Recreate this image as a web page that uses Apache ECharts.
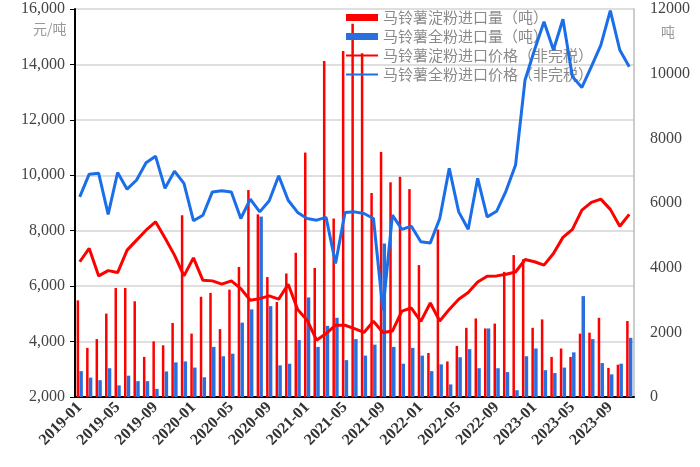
<!DOCTYPE html>
<html>
<head>
<meta charset="utf-8">
<script src="https://cdn.jsdelivr.net/npm/echarts@6/dist/echarts.min.js"></script>
<style>
  html, body { margin: 0; padding: 0; background: #fff; }
  #chart { width: 700px; height: 467px; }
</style>
</head>
<body>
<div id="chart"></div>
<script>
// 月份 2019-01 ~ 2023-11
const months = [];
for (let y = 2019; y <= 2023; y++) {
  for (let m = 1; m <= 12; m++) {
    if (y === 2023 && m > 11) break;
    months.push(y + '-' + (m < 10 ? '0' + m : m));
  }
}

// 马铃薯淀粉进口量（吨）
const starchVolume = [
  2990, 1520, 1790, 2580, 3370, 3370, 2960, 1240, 1720, 1600,
  2290, 5620, 1960, 3100, 3220, 2100, 3320, 4020, 6400, 5650,
  3710, 2940, 3820, 4460, 7560, 3990, 10390, 5520, 10700, 11540,
  10630, 6310, 7580, 6640, 6810, 6430, 4080, 1360, 5180, 1100,
  1580, 2140, 2430, 2120, 2270, 3870, 4390, 4260, 2140, 2400,
  1240, 1500, 1240, 1960, 1990, 2450, 900, 1000, 2350
]
// 马铃薯全粉进口量（吨）
const flourVolume = [
  800, 600, 520, 890, 360, 660, 490, 490, 250, 790,
  1070, 1100, 910, 610, 1550, 1260, 1340, 2300, 2710, 5580,
  2810, 980, 1030, 1760, 3080, 1550, 2200, 2450, 1140, 1790,
  1280, 1620, 4750, 1550, 1030, 1520, 1280, 800, 1010, 390,
  1230, 1480, 890, 2120, 890, 770, 210, 1260, 1500, 830,
  740, 910, 1380, 3120, 1790, 1050, 700, 1030, 1830
]
// 马铃薯淀粉进口价格（非完税）元/吨
const starchPrice = [
  6880, 7360, 6370, 6560, 6490, 7300, 7660, 8020, 8320, 7740,
  7120, 6370, 7020, 6210, 6190, 6070, 6190, 5910, 5490, 5550,
  5650, 5530, 6070, 5160, 4770, 4050, 4290, 4590, 4590, 4470,
  4330, 4730, 4330, 4380, 5100, 5210, 4730, 5390, 4740, 5160,
  5530, 5770, 6150, 6360, 6370, 6430, 6510, 6960, 6880, 6760,
  7180, 7760, 8050, 8740, 9020, 9140, 8770, 8160, 8590
]
// 马铃薯全粉进口价格（非完税）元/吨
const flourPrice = [
  9220, 10040, 10070, 8590, 10100, 9500, 9830, 10450, 10690, 9530,
  10150, 9710, 8360, 8560, 9400, 9440, 9400, 8440, 9140, 8680,
  9080, 9980, 9100, 8660, 8440, 8380, 8480, 6820, 8660, 8680,
  8620, 8440, 5130, 8560, 8050, 8160, 7600, 7560, 8440, 10250,
  8680, 8050, 9890, 8500, 8700, 9440, 10370, 13440, 14520, 15540,
  14520, 15630, 13560, 13170, 13920, 14700, 15940, 14520, 13920
]

const leftTicks = { min: 2000, max: 16000, interval: 2000 }
const rightTicks = { min: 0, max: 12000, interval: 2000 }

const RED = '#ff0000'
const BLUE = '#1a6ee8'
const numFont = 'Liberation Serif'
// 图例里线条的样式（细线）
const lineIcon = 'path://M0,2.5L32,2.5L32,4.5L0,4.5Z'

let chart = echarts.init(document.getElementById('chart'))
let option = {
  animation: false,
  grid: { left: 75, right: 66, top: 9, bottom: 70 },
  legend: {
    orient: 'vertical',
    left: 341,
    top: 5,
    itemWidth: 32,
    itemHeight: 7,
    itemGap: 4,
    textStyle: { color: '#8a8a8a', fontSize: 15, lineHeight: 15, fontFamily: 'Noto Sans CJK SC' },
    data: [
      { name: '马铃薯淀粉进口量（吨）', icon: 'rect' },
      { name: '马铃薯全粉进口量（吨）', icon: 'rect' },
      { name: '马铃薯淀粉进口价格（非完税）', icon: lineIcon },
      { name: '马铃薯全粉进口价格（非完税）', icon: lineIcon }
    ]
  },
  graphic: [
    { type: 'text', left: 33, top: 22, style: { text: '元/吨', fill: '#999', font: '14px "Noto Sans CJK SC"' } },
    { type: 'text', left: 661, top: 25, style: { text: '吨', fill: '#999', font: '14px "Noto Sans CJK SC"' } }
  ],
  xAxis: {
    type: 'category',
    data: months,
    boundaryGap: true,
    axisLine: { lineStyle: { color: '#000', width: 2 } },
    axisTick: { interval: 3, length: 5, lineStyle: { color: '#000' } },
    axisLabel: {
      interval: 3,
      rotate: 45,
      color: '#333',
      fontSize: 16,
      fontFamily: numFont,
      fontWeight: 'bold',
      margin: 8
    },
    splitLine: { show: false }
  },
  yAxis: [
    {
      type: 'value',
      min: leftTicks.min,
      max: leftTicks.max,
      interval: leftTicks.interval,
      axisLine: { show: true, lineStyle: { color: '#000', width: 2 } },
      axisTick: { show: true, length: 5, lineStyle: { color: '#000' } },
      axisLabel: {
        color: '#444',
        fontSize: 16,
        fontFamily: numFont,
        margin: 10,
        formatter: function (v) { return v.toLocaleString('en-US') }
      },
      splitLine: { lineStyle: { color: '#d4d4d4', width: 1.5 } }
    },
    {
      type: 'value',
      min: rightTicks.min,
      max: rightTicks.max,
      interval: rightTicks.interval,
      axisLine: { show: true, lineStyle: { color: '#bbb', width: 1.5 } },
      axisTick: { show: false },
      axisLabel: {
        color: '#444',
        fontSize: 16,
        fontFamily: numFont,
        margin: 16,
        formatter: function (v) { return String(v) }
      },
      splitLine: { show: false }
    }
  ],
  series: [
    {
      name: '马铃薯淀粉进口量（吨）',
      type: 'bar',
      yAxisIndex: 1,
      barWidth: 2.5,
      barGap: '10%',
      itemStyle: { color: RED },
      data: starchVolume
    },
    {
      name: '马铃薯全粉进口量（吨）',
      type: 'bar',
      yAxisIndex: 1,
      barWidth: 3.5,
      itemStyle: { color: '#2b6fdc' },
      data: flourVolume
    },
    {
      name: '马铃薯淀粉进口价格（非完税）',
      type: 'line',
      yAxisIndex: 0,
      symbol: 'none',
      z: 5,
      lineStyle: { color: RED, width: 3 },
      itemStyle: { color: RED },
      data: starchPrice
    },
    {
      name: '马铃薯全粉进口价格（非完税）',
      type: 'line',
      yAxisIndex: 0,
      symbol: 'none',
      z: 5,
      lineStyle: { color: BLUE, width: 3 },
      itemStyle: { color: BLUE },
      data: flourPrice
    }
  ]
}
chart.setOption(option)
</script>
</body>
</html>
